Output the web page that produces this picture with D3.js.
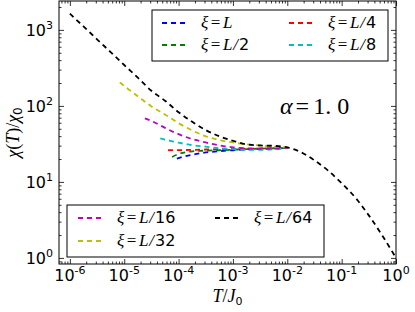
<!DOCTYPE html>
<html>
<head>
<meta charset="utf-8">
<script src="https://cdn.jsdelivr.net/npm/d3@7"></script>
<style>
  body { margin: 0; background: #fff; }
  svg { display: block; }
</style>
</head>
<body>
<div id="chart"></div>
<script>
// quarter-decade temperature grid, T/J0
const tGrid = [1e-6, 1.778e-6, 3.162e-6, 5.623e-6, 1e-5, 1.778e-5, 3.162e-5, 5.623e-5,
    1e-4, 1.778e-4, 3.162e-4, 5.623e-4, 1e-3, 1.778e-3, 3.162e-3, 5.623e-3,
    1e-2, 1.778e-2, 3.162e-2, 5.623e-2, 0.1, 0.1778, 0.3162, 0.5623, 1];

// xi = L/64 (full range)
const chiL64 = [1633, 1112, 752, 510, 345, 235, 158, 117, 82.6, 61.8, 48.1, 39.8,
    34.8, 31.2, 30.2, 29.8, 28.4, 24.6, 19.2, 14.1, 9.6, 6.25, 3.63, 1.96, 1.0];

const tL32 = [8.3e-6, 1e-5, 1.778e-5, 3.162e-5, 5.623e-5, 1e-4, 1.778e-4, 3.162e-4,
    5.623e-4, 1e-3, 1.778e-3, 3.162e-3, 5.623e-3, 1e-2];
const chiL32 = [204, 183, 134, 98.4, 77.1, 59.2, 47.6, 39.8, 35.5, 33.0, 31.3, 30.1, 29.1, 28.4];

const tL16 = [2.4e-5, 3.162e-5, 5.623e-5, 1e-4, 1.778e-4, 3.162e-4, 5.623e-4, 1e-3,
    1.778e-3, 3.162e-3, 5.623e-3, 1e-2];
const chiL16 = [68.5, 63.5, 51.4, 42.5, 36.6, 33.0, 30.3, 28.5, 27.7, 27.3, 27.4, 28.0];

const tL8 = [4.6e-5, 5.623e-5, 1e-4, 1.778e-4, 3.162e-4, 5.623e-4, 1e-3, 1.778e-3,
    3.162e-3, 5.623e-3, 1e-2];
const chiL8 = [37.3, 36.1, 32.8, 30.5, 29.1, 27.7, 27.1, 26.4, 26.4, 26.8, 27.8];

const tL4 = [6.4e-5, 1e-4, 1.778e-4, 3.162e-4, 5.623e-4, 1e-3, 1.778e-3, 3.162e-3, 5.623e-3, 1e-2];
const chiL4 = [26.1, 26.2, 26.4, 26.7, 27.0, 27.2, 27.4, 27.5, 27.6, 28.0];

const tL2 = [7.6e-5, 1e-4, 1.778e-4, 3.162e-4, 5.623e-4, 1e-3, 1.778e-3, 3.162e-3, 5.623e-3, 1e-2];
const chiL2 = [21.3, 23.3, 25.2, 25.8, 26.1, 26.5, 27.0, 27.4, 27.7, 28.0];

const tL1 = [9.3e-5, 1.778e-4, 3.162e-4, 5.623e-4, 1e-3, 1.778e-3, 3.162e-3, 5.623e-3, 1e-2];
const chiL1 = [20.3, 22.8, 24.4, 25.4, 26.1, 26.8, 27.2, 27.6, 28.0];

const xTickExp = [-6, -5, -4, -3, -2, -1, 0];
const yTickExp = [0, 1, 2, 3];

const series = [
    { denom: '', t: tL1, chi: chiL1, color: '#0000ff' },
    { denom: '2', t: tL2, chi: chiL2, color: '#008000' },
    { denom: '4', t: tL4, chi: chiL4, color: '#ff0000' },
    { denom: '8', t: tL8, chi: chiL8, color: '#00bfbf' },
    { denom: '16', t: tL16, chi: chiL16, color: '#bf00bf' },
    { denom: '32', t: tL32, chi: chiL32, color: '#bfbf00' },
    { denom: '64', t: tGrid, chi: chiL64, color: '#000000' }
];

const W = 415, H = 312;
const margin = { top: 1, right: 19, bottom: 48, left: 59 };
const x0 = margin.left, x1 = W - margin.right;
const y0 = margin.top, y1 = H - margin.bottom;

const serif = 'Liberation Serif';
const sans = 'DejaVu Sans';

const svg = d3.select('#chart').append('svg')
    .attr('width', W).attr('height', H);

const x = d3.scaleLog().domain([Math.pow(10, -6.2), 1]).range([x0, x1]);
const y = d3.scaleLog().domain([Math.pow(10, -0.08), Math.pow(10, 3.38)]).range([y1, y0]);

// minor ticks 2..9 in every decade inside the domain
function minorTicks(scale, lo, hi) {
    const out = [];
    const [d0, d1] = scale.domain();
    for (let e = lo; e <= hi; e++) {
        for (let m = 2; m <= 9; m++) {
            const v = m * Math.pow(10, e);
            if (v > d0 && v < d1) out.push(v);
        }
    }
    return out;
}
const xMajor = xTickExp.map(e => Math.pow(10, e));
const yMajor = yTickExp.map(e => Math.pow(10, e));
const xMinor = minorTicks(x, -7, 0);
const yMinor = minorTicks(y, -1, 3);

// ---- curves ----
const line = d3.line()
    .x(d => x(d[0]))
    .y(d => y(d[1]))
    .curve(d3.curveMonotoneX);

svg.append('clipPath').attr('id', 'plot')
    .append('rect').attr('x', x0).attr('y', y0).attr('width', x1 - x0).attr('height', y1 - y0);

svg.append('g').attr('clip-path', 'url(#plot)')
    .selectAll('path')
    .data(series)
    .enter().append('path')
    .attr('d', s => line(s.t.map((t, i) => [t, s.chi[i]])))
    .style('fill', 'none')
    .style('stroke', s => s.color)
    .style('stroke-width', '1.8px')
    .style('stroke-dasharray', '5,4');

// ---- axes, ticks pointing inward on all four sides ----
function addAxis(axisFn, scale, vals, size, transform) {
    const g = svg.append('g')
        .attr('transform', transform)
        .call(axisFn(scale).tickValues(vals).tickSize(-size).tickSizeOuter(0).tickFormat(''));
    g.select('.domain').remove();
    g.selectAll('line').style('stroke', '#000').style('stroke-width', '0.8px');
}
[[xMajor, 5], [xMinor, 2.5]].forEach(([vals, s]) => {
    addAxis(d3.axisBottom, x, vals, s, `translate(0,${y1})`);
    addAxis(d3.axisTop, x, vals, s, `translate(0,${y0})`);
});
[[yMajor, 5], [yMinor, 2.5]].forEach(([vals, s]) => {
    addAxis(d3.axisLeft, y, vals, s, `translate(${x0},0)`);
    addAxis(d3.axisRight, y, vals, s, `translate(${x1},0)`);
});

svg.append('rect')
    .attr('x', x0).attr('y', y0)
    .attr('width', x1 - x0).attr('height', y1 - y0)
    .style('fill', 'none').style('stroke', '#000').style('stroke-width', '1px');

// tick labels 10^n
function powerLabel(sel, e) {
    sel.append('tspan').text('10');
    sel.append('tspan').attr('dy', -7).attr('font-size', '11px').text(String(e));
}
svg.append('g').selectAll('text')
    .data(xTickExp)
    .enter().append('text')
    .attr('x', e => x(Math.pow(10, e)))
    .attr('y', y1 + 17)
    .attr('text-anchor', 'middle')
    .style('font-family', sans).style('font-size', '16px')
    .each(function (e) { powerLabel(d3.select(this), e); });

svg.append('g').selectAll('text')
    .data(yTickExp)
    .enter().append('text')
    .attr('x', x0 - 6)
    .attr('y', e => y(Math.pow(10, e)) + 6.5)
    .attr('text-anchor', 'end')
    .style('font-family', sans).style('font-size', '16px')
    .each(function (e) { powerLabel(d3.select(this), e); });

// axis titles
const xt = svg.append('text')
    .attr('x', (x0 + x1) / 2).attr('y', 302)
    .attr('text-anchor', 'middle')
    .style('font-family', serif).style('font-size', '18px');
xt.append('tspan').style('font-style', 'italic').text('T');
xt.append('tspan').text('/');
xt.append('tspan').style('font-style', 'italic').text('J');
xt.append('tspan').attr('dy', 3).style('font-family', sans).style('font-size', '11px').text('0');

const yt = svg.append('text')
    .attr('transform', `translate(19,${(y0 + y1) / 2}) rotate(-90)`)
    .attr('text-anchor', 'middle')
    .style('font-family', serif).style('font-size', '18px');
yt.append('tspan').style('font-style', 'italic').text('χ');
yt.append('tspan').text('(');
yt.append('tspan').style('font-style', 'italic').text('T');
yt.append('tspan').text(')/');
yt.append('tspan').style('font-style', 'italic').text('χ');
yt.append('tspan').attr('dy', 3).style('font-family', sans).style('font-size', '12px').text('0');

// alpha annotation
const at = svg.append('text')
    .attr('x', 280).attr('y', 114)
    .style('font-family', serif).style('font-size', '24px');
at.append('tspan').style('font-style', 'italic').text('α');
at.append('tspan').attr('dx', 3).text('=');
at.append('tspan').attr('dx', 4).text('1.');
at.append('tspan').attr('dx', 6).text('0');

// ---- legends ----
function xiLabel(g, tx, ty, denom) {
    const t = g.append('text')
        .attr('x', tx).attr('y', ty)
        .style('font-family', serif).style('font-size', '17px');
    t.append('tspan').style('font-style', 'italic').text('ξ');
    t.append('tspan').attr('dx', 2.5).text('=');
    t.append('tspan').attr('dx', 2.5).style('font-style', 'italic').text('L');
    if (denom) {
        t.append('tspan').attr('dx', 1).style('font-style', 'italic').text('/');
        t.append('tspan').attr('dx', 1).style('font-family', sans).style('font-size', '16px').text(denom);
    }
}

function legend(box, entries) {
    const g = svg.append('g');
    g.append('rect')
        .attr('x', box.x).attr('y', box.y).attr('width', box.w).attr('height', box.h)
        .style('fill', '#fff').style('stroke', '#000').style('stroke-width', '1px');
    entries.forEach(en => {
        const s = series[en.idx];
        g.append('line')
            .attr('x1', en.lx).attr('x2', en.lx + 23)
            .attr('y1', en.ly).attr('y2', en.ly)
            .style('stroke', s.color).style('stroke-width', '1.8px')
            .style('stroke-dasharray', '5,4');
        xiLabel(g, en.lx + 39, en.ly + 5, s.denom);
    });
}

legend({ x: 152, y: 10, w: 236, h: 51 }, [
    { idx: 0, lx: 162, ly: 23 },
    { idx: 1, lx: 162, ly: 45 },
    { idx: 2, lx: 289, ly: 23 },
    { idx: 3, lx: 289, ly: 45 }
]);
legend({ x: 67, y: 205, w: 257, h: 52 }, [
    { idx: 4, lx: 78, ly: 218 },
    { idx: 5, lx: 78, ly: 241 },
    { idx: 6, lx: 215, ly: 218 }
]);
</script>
</body>
</html>
